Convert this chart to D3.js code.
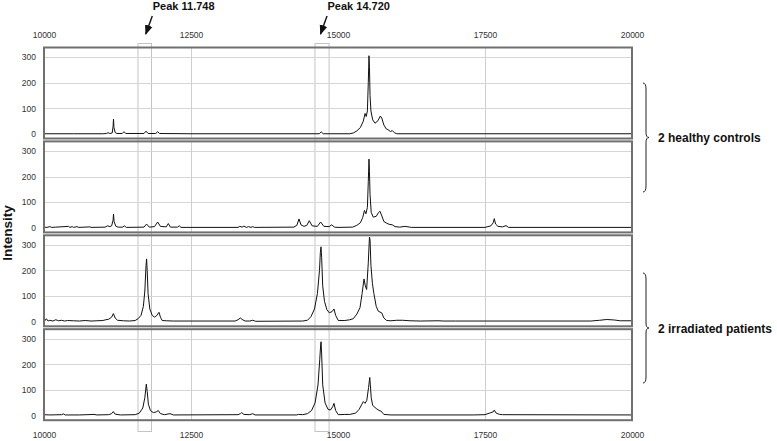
<!DOCTYPE html>
<html><head><meta charset="utf-8">
<script src="https://cdn.jsdelivr.net/npm/d3@7"></script>
<style>body{margin:0;background:#fff}svg{display:block;font-family:"Liberation Sans",Arial,sans-serif}</style>
</head><body><svg id="c" width="777" height="441"></svg>
<script>
const xTicks = [10000, 12500, 15000, 17500, 20000];
const xGridTicks = [12500, 17500];
const yTicks = [0, 100, 200, 300];
const peakLabels = ["Peak 11.748", "Peak 14.720"];
const peakCenters = [11748, 14720];
const peakWindows = [[11590, 11820], [14600, 14840]];
const groupLabels = ["2 healthy controls", "2 irradiated patients"];

const healthy1 = [[10000,1],[10500,1],[11000,1],[11060,2],[11090,5],[11120,2],[11160,4],[11175,30],[11182,58],[11190,25],[11210,6],[11240,2],[11330,2],[11360,9],[11390,2],[11700,2],[11735,11],[11770,2],[11900,2],[11933,9],[11965,2],[12500,1],[14680,1],[14715,8],[14750,1],[15200,1],[15260,4],[15320,12],[15380,25],[15430,50],[15460,80],[15480,68],[15500,90],[15515,200],[15527,305],[15535,260],[15545,150],[15560,90],[15590,55],[15630,42],[15680,52],[15720,70],[15745,62],[15780,35],[15820,20],[15850,17],[15890,10],[15925,13],[15960,5],[16000,1],[20000,1]];

const healthy2 = [[10000,3],[10050,2],[10100,5],[10130,2],[10200,3],[10420,6],[10440,2],[10480,5],[10500,2],[10560,5],[10590,2],[10780,4],[10800,2],[11040,3],[11080,8],[11120,5],[11150,8],[11175,30],[11182,54],[11192,25],[11220,7],[11260,3],[11340,3],[11366,8],[11400,2],[11700,3],[11745,15],[11790,3],[11880,5],[11933,23],[11980,6],[12080,4],[12114,17],[12150,3],[12270,3],[12301,8],[12330,2],[13300,2],[13330,6],[13370,3],[13400,7],[13440,2],[13480,5],[13520,2],[13550,5],[13580,2],[14250,3],[14300,10],[14337,35],[14370,12],[14420,6],[14470,10],[14512,28],[14560,8],[14650,6],[14705,23],[14760,6],[14850,5],[14893,12],[14940,3],[15000,2],[15250,3],[15320,10],[15380,20],[15420,40],[15450,68],[15475,55],[15500,80],[15515,180],[15527,268],[15535,220],[15545,130],[15565,60],[15600,42],[15650,45],[15690,60],[15714,65],[15740,50],[15780,25],[15830,18],[15870,14],[15924,12],[15970,5],[16050,3],[16139,6],[16250,2],[17500,2],[17600,8],[17640,20],[17658,36],[17680,15],[17720,6],[17800,4],[17857,9],[17900,2],[20000,2]];

const irradiated1 = [[10000,10],[10010,3],[10040,12],[10070,3],[10100,6],[10150,3],[10200,8],[10250,4],[10300,6],[10350,3],[10400,5],[10500,4],[10600,3],[10700,5],[10800,3],[10900,4],[11000,5],[11050,8],[11100,10],[11150,18],[11180,32],[11210,15],[11250,6],[11350,4],[11450,3],[11550,5],[11600,12],[11650,25],[11690,60],[11715,120],[11735,220],[11745,245],[11755,200],[11770,110],[11800,50],[11840,25],[11880,18],[11920,25],[11956,37],[11980,18],[12010,5],[12080,4],[12200,3],[13250,3],[13300,8],[13340,15],[13370,9],[13420,3],[13500,3],[13549,6],[13600,2],[14400,3],[14480,6],[14540,20],[14600,50],[14650,110],[14685,200],[14700,270],[14711,292],[14722,250],[14740,140],[14770,80],[14810,48],[14852,35],[14900,40],[14932,50],[14960,25],[15005,5],[15116,5],[15200,8],[15260,12],[15320,30],[15374,55],[15410,110],[15442,167],[15465,140],[15487,126],[15515,230],[15535,330],[15545,320],[15560,220],[15585,150],[15610,110],[15650,60],[15686,41],[15743,35],[15780,15],[15828,5],[15900,4],[16000,6],[16100,6],[16224,4],[16400,3],[16700,4],[16800,3],[17000,3],[19300,3],[19450,6],[19570,9],[19700,7],[19800,4],[20000,4]];

const irradiated2 = [[10000,4],[10100,3],[10300,4],[10329,7],[10360,3],[10600,3],[10850,5],[10900,3],[11100,4],[11150,8],[11179,16],[11210,6],[11300,3],[11550,4],[11620,10],[11680,30],[11715,70],[11740,123],[11755,95],[11775,45],[11810,20],[11860,12],[11910,15],[11944,20],[11980,8],[12050,4],[12143,8],[12200,3],[13300,4],[13340,8],[13362,12],[13400,5],[13500,4],[13549,8],[13590,3],[14300,3],[14325,5],[14400,4],[14480,8],[14550,20],[14610,50],[14660,120],[14690,220],[14705,275],[14712,288],[14722,240],[14740,120],[14780,50],[14830,25],[14870,22],[14910,35],[14932,48],[14960,20],[15005,4],[15116,5],[15200,5],[15300,10],[15360,25],[15400,42],[15431,55],[15460,48],[15490,60],[15520,110],[15540,149],[15550,120],[15565,70],[15590,40],[15650,28],[15700,20],[15731,18],[15780,5],[15900,3],[17300,3],[17500,4],[17600,12],[17640,15],[17658,22],[17690,10],[17750,5],[17800,4],[20000,3]];

const spectra = [healthy1, healthy2, irradiated1, irradiated2];

const svg = d3.select("#c");
const x = d3.scaleLinear().domain([10000, 20000]).range([44, 632]);
const panelTop0 = 47.5, pitch = 93.9, panelH = 91;
const plotLeft = 44, plotRight = 632;

// peak window boxes (behind)
svg.append("g").selectAll("rect").data(peakWindows).join("rect")
  .attr("x", d => x(d[0]) + 0.5).attr("width", d => x(d[1]) - x(d[0]))
  .attr("y", 43.5).attr("height", 388)
  .attr("fill", "none").attr("stroke", "#c4c4c4").attr("stroke-width", 1);

spectra.forEach((data, i) => {
  const top = panelTop0 + i * pitch;
  const y = d3.scaleLinear().domain([-17.5, 337]).range([top + panelH, top]);
  const g = svg.append("g");
  // horizontal grid
  g.selectAll("line.h").data(yTicks.filter(v => v > 0)).join("line")
    .attr("x1", plotLeft).attr("x2", plotRight)
    .attr("y1", d => Math.round(y(d)) + 0.5).attr("y2", d => Math.round(y(d)) + 0.5)
    .attr("stroke", "#d6d6d6").attr("stroke-width", 1);
  // vertical grid
  g.selectAll("line.v").data(xGridTicks).join("line")
    .attr("x1", d => Math.round(x(d)) + 0.5).attr("x2", d => Math.round(x(d)) + 0.5)
    .attr("y1", top).attr("y2", top + panelH)
    .attr("stroke", "#cfcfcf").attr("stroke-width", 1);
  // y axis labels
  const ya = d3.axisLeft(y).tickValues(yTicks).tickSize(0).tickPadding(8);
  const ag = g.append("g").attr("transform", `translate(${plotLeft},0)`).call(ya);
  ag.select(".domain").remove();
  ag.selectAll("text").attr("font-size", 8.5).attr("fill", "#333")
    .attr("font-family", "'Liberation Sans',Arial,sans-serif");
  // spectrum line
  const line = d3.line().x(d => x(d[0])).y(d => y(d[1]));
  g.append("path").datum(data).attr("d", line)
    .attr("fill", "none").attr("stroke", "#111").attr("stroke-width", 1)
    .attr("stroke-linejoin", "round");
  // frame
  g.append("rect").attr("x", plotLeft).attr("y", top)
    .attr("width", plotRight - plotLeft).attr("height", panelH)
    .attr("fill", "none").attr("stroke", "#707070").attr("stroke-width", 2);
});

// top & bottom x axis labels
const xt = d3.axisTop(x).tickValues(xTicks).tickSize(0).tickFormat(d3.format("d"));
const xtop = svg.append("g").attr("transform", "translate(0,38)").call(xt);
const xb = d3.axisBottom(x).tickValues(xTicks).tickSize(0).tickFormat(d3.format("d"));
const xbot = svg.append("g").attr("transform", "translate(0,432)").call(xb);
[xtop, xbot].forEach(a => {
  a.select(".domain").remove();
  a.selectAll("text").attr("font-size", 8.5).attr("fill", "#333")
    .attr("font-family", "'Liberation Sans',Arial,sans-serif");
});
xtop.selectAll("text").attr("dy", 0).attr("y", 0);
xbot.selectAll("text").attr("dy", "0.71em").attr("y", 0);

// peak labels and arrows
svg.append("defs").append("marker").attr("id", "ah")
  .attr("viewBox", "0 0 10 10").attr("refX", 9).attr("refY", 5)
  .attr("markerWidth", 7).attr("markerHeight", 7).attr("orient", "auto")
  .append("path").attr("d", "M0,1 L10,5 L0,9 Z").attr("fill", "#111");
peakCenters.forEach((c, i) => {
  const px = x(c);
  svg.append("text").attr("x", px + 6).attr("y", 10)
    .attr("font-size", 11).attr("font-weight", "bold").attr("fill", "#111")
    .text(peakLabels[i]);
  svg.append("line").attr("x1", px + 5.5).attr("y1", 16).attr("x2", px - 1).attr("y2", 34)
    .attr("stroke", "#111").attr("stroke-width", 1.4).attr("marker-end", "url(#ah)");
});

// y axis title
svg.append("text").attr("transform", "translate(12,233) rotate(-90)")
  .attr("text-anchor", "middle").attr("font-size", 13.5).attr("font-weight", "bold")
  .attr("fill", "#111").text("Intensity");

// braces and group labels
const braces = [[83, 192], [273, 383]];
braces.forEach((b, i) => {
  const [t, bt] = b, m = (t + bt) / 2, bx = 643;
  const p = `M${bx},${t} Q${bx+3},${t} ${bx+3},${t+6} L${bx+3},${m-5} Q${bx+3},${m} ${bx+6},${m} Q${bx+3},${m} ${bx+3},${m+5} L${bx+3},${bt-6} Q${bx+3},${bt} ${bx},${bt}`;
  svg.append("path").attr("d", p).attr("fill", "none").attr("stroke", "#222").attr("stroke-width", 1);
  svg.append("text").attr("x", 658).attr("y", m + 4.5)
    .attr("font-size", 12).attr("font-weight", "bold").attr("fill", "#111")
    .text(groupLabels[i]);
});
</script></body></html>
